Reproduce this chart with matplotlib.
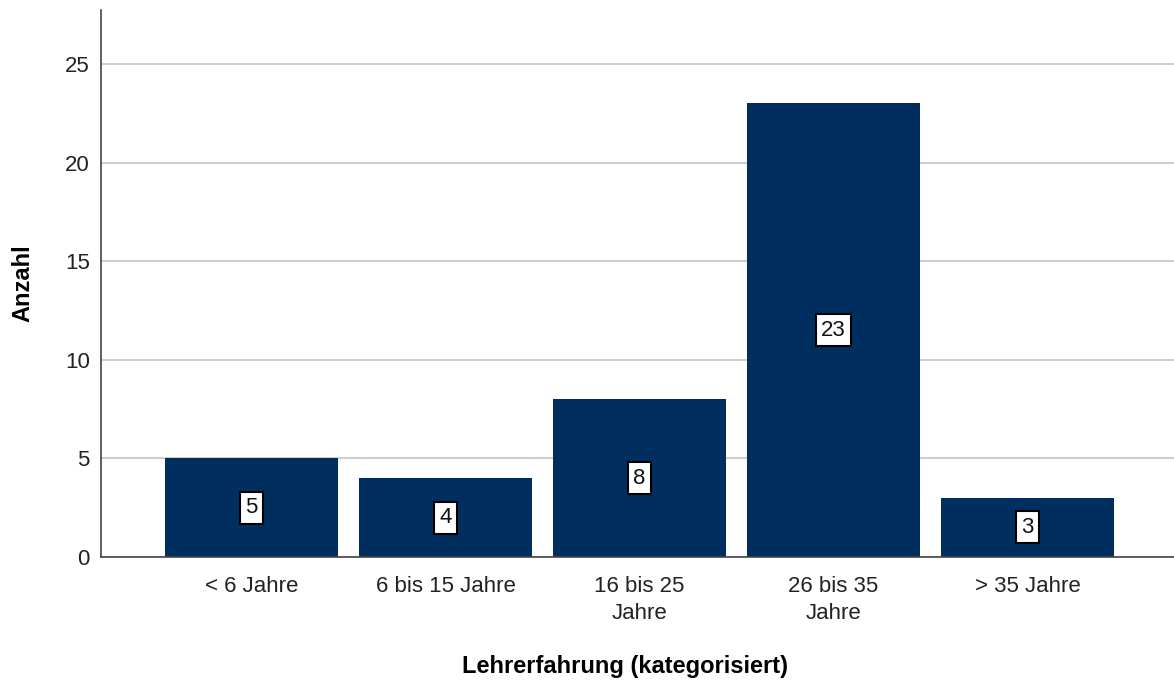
import matplotlib.pyplot as plt

plt.rcParams['font.family'] = ['Liberation Sans', 'DejaVu Sans']

categories = ["< 6 Jahre", "6 bis 15 Jahre", "16 bis 25\nJahre", "26 bis 35\nJahre", "> 35 Jahre"]
counts = [5, 4, 8, 23, 3]
yticks = [0, 5, 10, 15, 20, 25]

bar_color = "#002e5f"

W, H = 1174, 684
fig = plt.figure(figsize=(W / 100, H / 100), dpi=100)
ax = fig.add_axes([101 / W, 127 / H, 1 - 101 / W, (557 - 10) / H])

x = list(range(len(categories)))
ax.bar(x, counts, width=0.89, color=bar_color, zorder=2)

# value boxes in the middle of every bar
for xi, c in zip(x, counts):
    ax.text(xi, c / 2, str(c), ha="center", va="center", fontsize=16, color="#111111",
            bbox=dict(boxstyle="square,pad=0.25", facecolor="white", edgecolor="black", linewidth=1.5),
            zorder=3)

ax.set_xlim(-0.776, 4.755)
ax.set_ylim(0, 27.74)
ax.set_yticks(yticks)
ax.set_xticks(x)
ax.set_xticklabels(categories, fontsize=16, color="#222222", linespacing=1.35)
ax.tick_params(axis="y", labelsize=16, colors="#222222", length=0, pad=8)
ax.tick_params(axis="x", length=0, pad=14)

ax.yaxis.grid(True, color="#cfcfcf", linewidth=1.5, zorder=0)
ax.set_axisbelow(True)

for side in ["top", "right"]:
    ax.spines[side].set_visible(False)
ax.spines["left"].set_color("#444444")
ax.spines["bottom"].set_color("#444444")
ax.spines["left"].set_linewidth(1.2)
ax.spines["bottom"].set_linewidth(1.2)

# axis titles placed at fixed spots on the figure
fig.text(625 / W, 1 - 666 / H, "Lehrerfahrung (kategorisiert)", ha="center", va="center",
         fontsize=17, fontweight="bold")
ax.set_ylabel("Anzahl", fontsize=17, fontweight="bold", labelpad=22)

fig.savefig("out.png", dpi=100)
